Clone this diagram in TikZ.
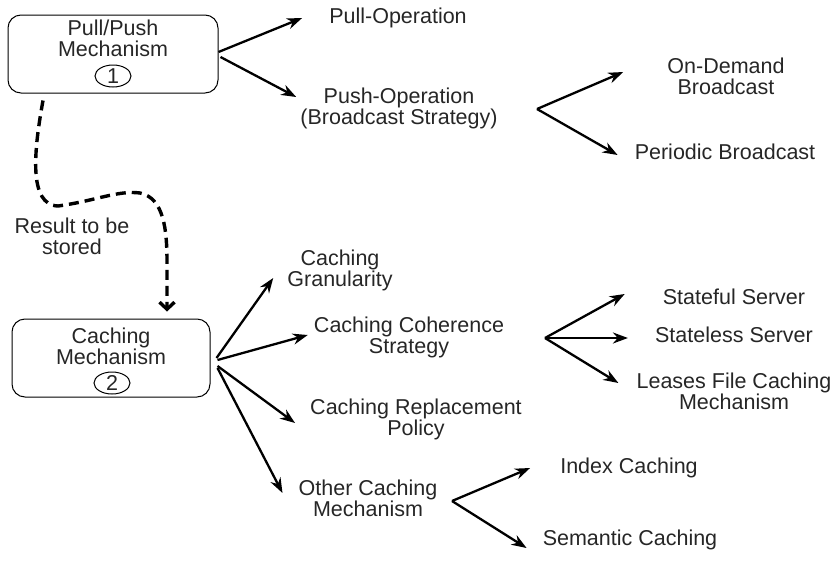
\documentclass[tikz,border=0pt]{standalone}
\usepackage{fontspec}
\setmainfont{Liberation Sans}
\usetikzlibrary{arrows.meta,shapes.geometric}

\begin{document}
\begin{tikzpicture}[x=1pt, y=-1pt, >={Stealth[length=15pt,width=11pt]}]
    \tikzset{txt/.style={inner sep=0pt, align=center, text=black!85,
            font=\fontsize{21.5}{21}\selectfont}}
    \tikzset{mechbox/.style={draw, line width=1pt, rounded corners=13pt,
            minimum height=78pt}}
    \tikzset{numoval/.style={txt, ellipse, draw, line width=1pt,
            minimum width=36pt, minimum height=22pt}}
    \tikzset{flow/.style={->, line width=2.3pt}}
    \tikzset{result/.style={line width=3.4pt, dash pattern=on 10pt off 6pt,
            -{Straight Barb[length=7pt,width=15pt]}}}
    \useasboundingbox (0,0) rectangle (838,565);

    \node[mechbox, minimum width=210pt] (pp) at (113,54) {};
    \node[txt] (pptext) at (113,38) {Pull/Push\\Mechanism};
    \node[numoval] (one) at (113,76) {1};

    \node[mechbox, minimum width=198pt] (cm) at (111,358) {};
    \node[txt] (cmtext) at (111,346) {Caching\\Mechanism};
    \node[numoval] (two) at (112,383) {2};

    \node[txt] (pull) at (398,18) {Pull-Operation};
    \node[txt] (push) at (399,108) {Push-Operation\\(Broadcast Strategy)};
    \node[txt] (ondemand) at (726,76) {On-Demand\\Broadcast};
    \node[txt] (periodic) at (725,152) {Periodic Broadcast};
    \node[txt] (stored) at (72,236) {Result to be\\stored};

    \node[txt] (gran) at (340,270) {Caching\\Granularity};
    \node[txt] (coh) at (409,337) {Caching Coherence\\Strategy};
    \node[txt] (repl) at (416,419) {Caching Replacement\\Policy};
    \node[txt] (other) at (368,498) {Other Caching\\Mechanism};
    \node[txt] (stateful) at (734,297) {Stateful Server};
    \node[txt] (stateless) at (734,335) {Stateless Server};
    \node[txt] (leases) at (734,391) {Leases File Caching\\Mechanism};
    \node[txt] (index) at (629,468) {Index Caching};
    \node[txt] (semantic) at (630,540) {Semantic Caching};

    \coordinate (pushfork) at (537,109);
    \coordinate (cohfork) at (545,338);
    \coordinate (otherfork) at (452,501);

    \draw[flow] ([yshift=2pt]pp.east) -- ([xshift=-27pt]pull.west);
    \draw[flow] ([xshift=2pt,yshift=-3pt]pp.east) -- ([xshift=-4pt,yshift=11pt]push.west);
    \draw[flow] (pushfork) -- ([xshift=-44pt,yshift=4pt]ondemand.west);
    \draw[flow] (pushfork) -- ([xshift=-17pt,yshift=-3pt]periodic.west);

    \draw[result] ([xshift=-70pt,yshift=-7pt]pp.south)
        .. controls (34,150) and (28,205) .. (58,206)
        .. controls (95,201) and (118,190) .. (140,193)
        .. controls (164,198) and (167,230) .. (167,262)
        -- ([xshift=56pt,yshift=7pt]cm.north);

    \draw[flow] ([xshift=6pt]cm.east) -- ([xshift=-14pt,yshift=-8pt]gran.west);
    \draw[flow] ([xshift=7pt,yshift=-2pt]cm.east) -- ([xshift=-6pt,yshift=2pt]coh.west);
    \draw[flow] ([xshift=7pt,yshift=-8pt]cm.east) -- ([xshift=-15pt,yshift=-4pt]repl.west);
    \draw[flow] ([xshift=7pt,yshift=-10pt]cm.east) -- ([xshift=-16pt,yshift=5pt]other.west);

    \draw[flow] (cohfork) -- ([xshift=-38pt,yshift=3pt]stateful.west);
    \draw[flow] (cohfork) -- ([xshift=-27pt,yshift=-3pt]stateless.west);
    \draw[flow] (cohfork) -- ([xshift=-18pt,yshift=8pt]leases.west);

    \draw[flow] (otherfork) -- ([xshift=-30pt]index.west);
    \draw[flow] (otherfork) -- ([xshift=-16pt,yshift=-8pt]semantic.west);
\end{tikzpicture}
\end{document}
